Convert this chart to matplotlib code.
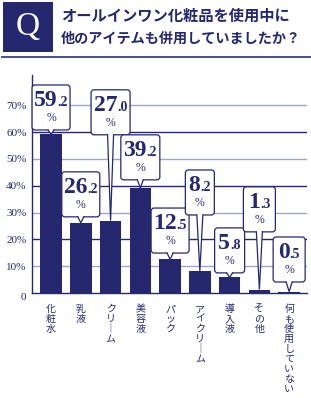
import numpy as np
import matplotlib.pyplot as plt
from matplotlib.patches import FancyBboxPatch, Rectangle, Polygon
from matplotlib.transforms import ScaledTranslation

# data
categories = ['化粧水', '乳液', 'クリーム', '美容液', 'パック', 'アイクリーム', '導入液', 'その他', '何も使用していない']
values = [59.2, 26.2, 27.0, 39.2, 12.5, 8.2, 5.8, 1.3, 0.5]
yticks = [0, 10, 20, 30, 40, 50, 60, 70]
ytick_labels = ['0', '10%', '20%', '30%', '40%', '50%', '60%', '70%']
title_lines = ['オールインワン化粧品を使用中に', '他のアイテムも併用していましたか？']

# callout layout (box bottom in %, box width in px)
box_bottom = [60.8, 28.4, 59.0, 42.2, 14.9, 29.1, 7.5, 22.8, 4.1]
box_width_px = [38, 38, 39, 39, 38, 29, 30, 32, 32]
box_height_px = 45

navy = '#25286e'
light = '#a3a5c8'
serif = ['Liberation Serif', 'DejaVu Serif']
jp = ['Noto Sans CJK JP', 'DejaVu Sans']

W, H = 311, 398
fig = plt.figure(figsize=(W / 100, H / 100), dpi=100)

# axes placement in pixels
ax_l, ax_r, ax_t, ax_b = 32, 307, 75, 293
ax = fig.add_axes([ax_l / W, (H - ax_b) / H, (ax_r - ax_l) / W, (ax_b - ax_t) / H])
xmin, xmax = -0.64, 8.6
ymax = 81.3
ax.set_xlim(xmin, xmax)
ax.set_ylim(0, ymax)
px_x = (xmax - xmin) / (ax_r - ax_l)   # data units per pixel
px_y = ymax / (ax_b - ax_t)

x = np.arange(len(categories))

for yv in yticks[1:]:
    col = light if yv % 20 else navy
    ax.axhline(yv, color=col, lw=1.0, zorder=1)

ax.bar(x, values, width=0.72, color=navy, zorder=2)

for s in ['top', 'right']:
    ax.spines[s].set_visible(False)
for s in ['left', 'bottom']:
    ax.spines[s].set_color(navy)
    ax.spines[s].set_linewidth(1.0)

ax.set_xticks([])
ax.set_yticks(yticks)
ax.set_yticklabels(ytick_labels, fontfamily=serif, fontsize=8, color=navy)
ax.tick_params(axis='y', length=0, pad=4)
ax.get_yticklabels()[0].set_va('top')

# category labels, stacked vertically
for i, c in enumerate(categories):
    vert = c.replace('ー', '｜')
    ax.text(i, -11 * px_y, '\n'.join(vert), ha='center', va='top', fontsize=7.2,
            fontfamily=jp, color=navy, linespacing=1.0, clip_on=False)

# callouts
renderer = fig.canvas.get_renderer()
aspect = px_y / px_x
for i, v in enumerate(values):
    bw = box_width_px[i] * px_x
    bh = box_height_px * px_y
    b0 = box_bottom[i]
    box = FancyBboxPatch((i - bw / 2, b0), bw, bh,
                         boxstyle='round,pad=0,rounding_size=%f' % (3 * px_x),
                         mutation_aspect=aspect, fc='white', ec=navy, lw=0.9,
                         zorder=4, clip_on=False)
    ax.add_patch(box)
    hw = 3 * px_x
    ax.add_patch(Polygon([(i - hw, b0 + 0.6), (i + hw, b0 + 0.6), (i, v)],
                         closed=True, fc='white', ec='none', zorder=5, clip_on=False))
    ax.plot([i - hw, i, i + hw], [b0, v, b0], color=navy, lw=0.9, zorder=5,
            solid_joinstyle='miter')

    whole, dec = ('%.1f' % v).split('.')
    ybase = b0 + bh - 21 * px_y
    t1 = ax.text(i, ybase, whole, fontsize=17, fontweight='bold', fontfamily=serif,
                 color=navy, ha='left', va='baseline', zorder=6)
    t2 = ax.text(i, ybase, '.' + dec, fontsize=10, fontweight='bold', fontfamily=serif,
                 color=navy, ha='left', va='baseline', zorder=6)
    w1 = t1.get_window_extent(renderer).width
    w2 = t2.get_window_extent(renderer).width
    tot = w1 + w2
    t1.set_transform(ax.transData + ScaledTranslation(-tot / 2 / 100, 0, fig.dpi_scale_trans))
    t2.set_transform(ax.transData + ScaledTranslation((w1 - tot / 2) / 100, 0, fig.dpi_scale_trans))
    ax.text(i, b0 + bh - 33 * px_y, '%', fontsize=8.5, fontfamily=serif, color=navy,
            ha='center', va='center', zorder=6)

# title block
fig.patches.append(Rectangle((3 / W, (H - 52) / H), 50 / W, 50 / H,
                             transform=fig.transFigure, fc=navy, ec='none'))
fig.text(28 / W, (H - 27) / H, 'Q', fontsize=24, fontfamily=serif, color='white',
         ha='center', va='center')
fig.text(61 / W, (H - 16) / H, title_lines[0], fontsize=11, fontweight='bold',
         fontfamily=jp, color=navy, ha='left', va='center')
fig.text(61 / W, (H - 38.5) / H, title_lines[1], fontsize=10.2, fontweight='bold',
         fontfamily=jp, color=navy, ha='left', va='center')
fig.add_artist(plt.Line2D([2 / W, 1], [(H - 56.5) / H] * 2, color='#4a4e8e', lw=1.4,
                          transform=fig.transFigure))

fig.savefig('out.png', dpi=100)
